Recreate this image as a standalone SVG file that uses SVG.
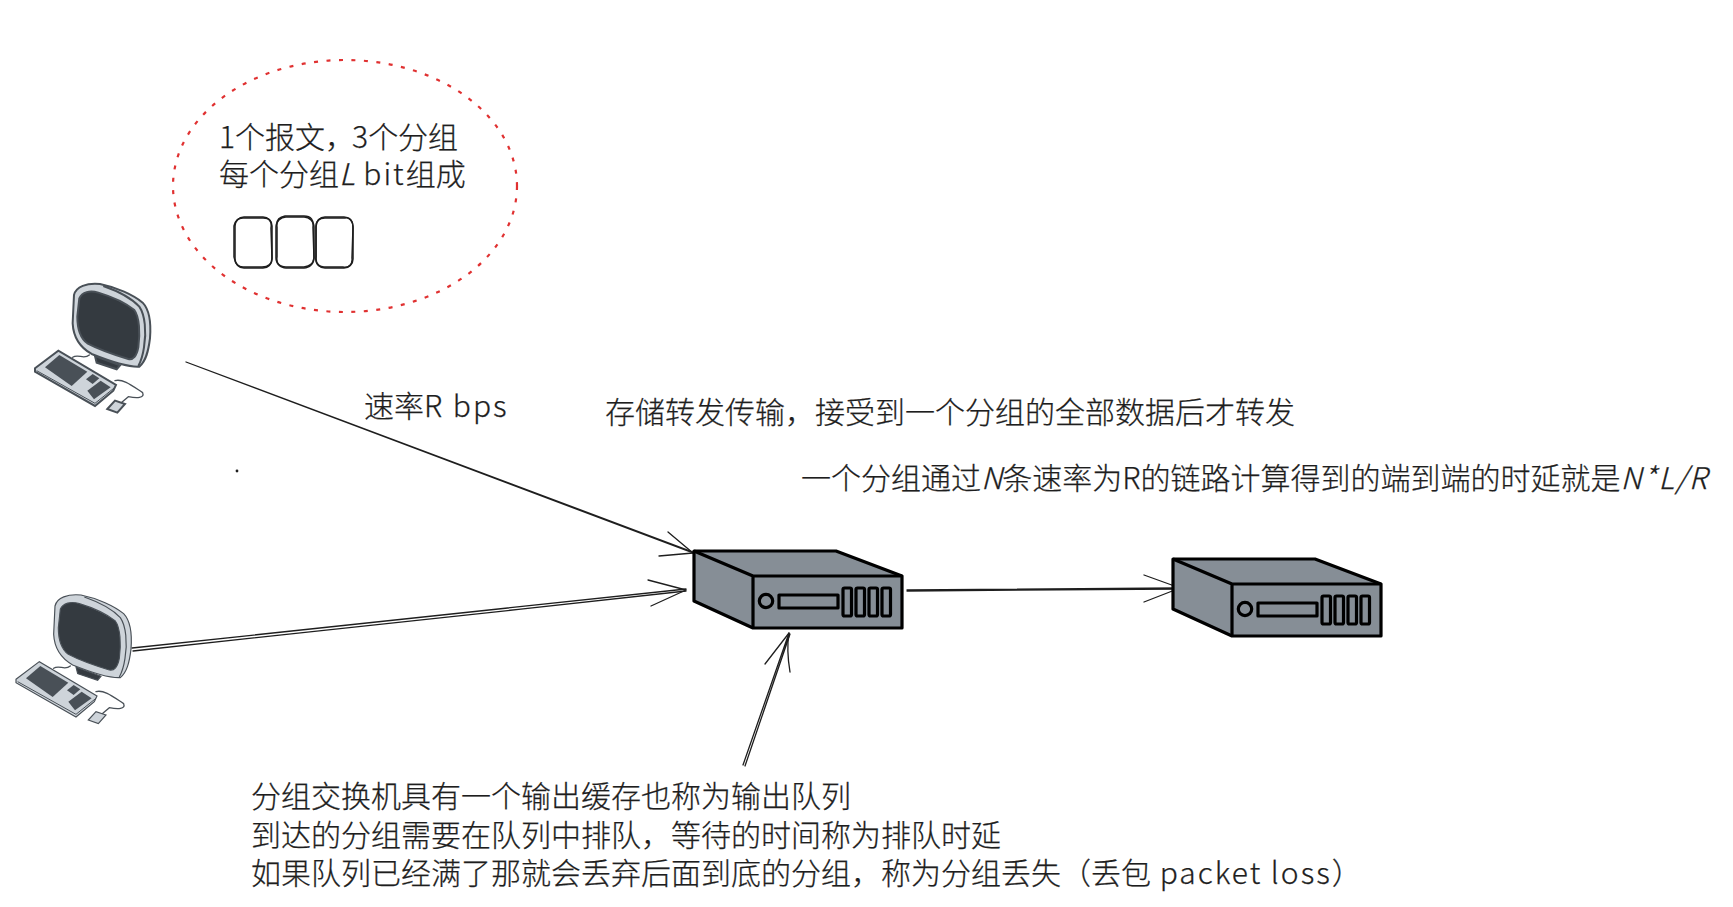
<svg xmlns="http://www.w3.org/2000/svg" width="1733" height="907" viewBox="0 0 1733 907">
<style>
text{font-family:"Noto Sans CJK SC","Noto Sans",sans-serif;font-size:30px;font-weight:300;fill:#1e1e1e;stroke:#1e1e1e;stroke-width:.25}
.lat{letter-spacing:2px}
.it{font-style:italic}
.box{fill:none;stroke:#1e1e1e;stroke-width:1.5}
.ln{fill:none;stroke:#1e1e1e;stroke-width:1.3;stroke-linecap:round;stroke-linejoin:round}
.sv{fill:#868e96;stroke:#000;stroke-width:3.2;stroke-linejoin:round}
.svl{fill:none;stroke:#000;stroke-width:3.2;stroke-linejoin:round}
.sc{fill:#343a40}
.key{fill:#495057}
.lite{fill:#ced4da}
.wire{fill:none;stroke-width:4;stroke-linecap:round;stroke-linejoin:round}
</style>
<defs>
<g id="server">
<path class="sv" d="M694 551H836L902 576V628H753L694 601Z"/>
<path class="svl" d="M694 551L753 576H902M753 576V628"/>
<circle class="sv" cx="766" cy="601" r="6.7"/>
<rect class="sv" x="779" y="595" width="59" height="13"/>
<rect class="sv" x="843" y="588" width="8.5" height="28" rx="1.5"/>
<rect class="sv" x="856" y="588" width="8.5" height="28" rx="1.5"/>
<rect class="sv" x="869" y="588" width="8.5" height="28" rx="1.5"/>
<rect class="sv" x="882" y="588" width="8.5" height="28" rx="1.5"/>
</g>
<g id="pc">
<path class="sc" d="M285 288L360 316L350 328L290 308Z"/>
<path class="lite" d="M222 105C228 80 260 68 300 72C350 82 400 105 428 128C447 148 454 185 450 235C445 275 438 303 418 320C380 322 320 300 275 282C240 262 220 230 218 190Z"/>
<path fill="none" d="M310 78C350 92 395 115 418 140C435 165 440 215 432 262C428 290 422 305 415 318"/>
<path class="sc" d="M238 115C246 96 270 90 295 98C335 110 378 130 403 150C418 170 421 220 415 262C410 288 400 300 385 297C345 285 300 270 262 250C242 235 232 205 232 170Z"/>
<path class="lite" d="M105 325L175 272L348 375L340 392L285 438L105 335Z"/>
<path fill="none" stroke-width="3" d="M110 332L285 430L345 382"/>
<path class="key" stroke="none" d="M135 322L178 285L262 335L215 378Z"/>
<path class="key" stroke="none" d="M258 358L278 342L298 355L278 372ZM262 392L302 362L332 382L282 418Z"/>
<path class="wire" d="M218 292C235 280 250 300 268 285M345 362C370 355 400 380 428 398C435 415 410 415 385 410L362 430"/>
<path class="lite" d="M322 447L345 422L375 432L352 458Z"/>
</g>
</defs>
<g id="connectors">
<path class="ln" d="M186 362L693 553M186 362C350 423 520 488 693 552"/>
<path class="ln" d="M668 532L693 553L659 556"/>
<path class="ln" d="M132 648L686 589M133 651C300 632 500 612 686 591"/>
<path class="ln" d="M648 580L686 590L651 606"/>
<path class="ln" d="M907 590L1180 588M907 591L1180 589"/>
<path class="ln" d="M1144 575L1180 588L1144 602"/>
<path class="ln" d="M743 765L789 633M745 766L790 634"/>
<path class="ln" d="M765 664L789 633C787 645 788 660 790 672"/>
</g>
<g id="note-ellipse">
<ellipse cx="345" cy="186" rx="172" ry="126" fill="none" stroke="#e03131" stroke-width="2.2" stroke-dasharray="4 8.5"/>
<text x="219" y="148">1个报文，<tspan dx="-3">3</tspan>个分组</text>
<text x="219" y="185">每个分组<tspan class="it">L</tspan><tspan class="lat"> bit</tspan>组成</text>
</g>
<g id="packets">
<rect class="box" x="235" y="217" width="37" height="51" rx="9"/>
<path class="box" d="M243 218H263C270 218 272 222 271 228L272 258C272 264 268 267 262 267H243C237 267 235 263 234 257V226C235 221 238 218 243 218Z"/>
<rect class="box" x="276" y="217" width="38" height="51" rx="10"/>
<path class="box" d="M285 216H304C311 216 314 220 313 227L314 258C313 264 310 266 304 267H286C279 267 276 263 277 257V227C276 221 279 217 285 216Z"/>
<rect class="box" x="316" y="217" width="37" height="51" rx="9"/>
<path class="box" d="M325 218H345C351 217 353 222 353 228L352 258C353 265 348 268 343 267H324C318 267 315 263 316 257V227C316 221 319 218 325 218Z"/>
</g>
<g id="pc1" transform="translate(0,260) scale(.3333)" stroke="#495057" stroke-width="6"><use href="#pc"/></g>
<g id="pc2" transform="translate(-19,571) scale(.3333)" stroke="#495057" stroke-width="3.5"><use href="#pc"/></g>
<g id="switch1"><use href="#server"/></g>
<g id="switch2"><use href="#server" x="479" y="8"/></g>
<g id="labels">
<text x="364" y="417">速率<tspan style="letter-spacing:2px">R bps</tspan></text>
<text x="605" y="423">存储转发传输，接受到一个分组的全部数据后才转发</text>
<text x="801" y="489">一个分组通过<tspan class="it">N</tspan>条速率为R的链路计算得到的端到端的时延就是<tspan class="it" style="letter-spacing:1.6px">N*L/R</tspan></text>
<text x="251" y="807">分组交换机具有一个输出缓存也称为输出队列</text>
<text x="251" y="846">到达的分组需要在队列中排队，等待的时间称为排队时延</text>
<text x="251" y="884">如果队列已经满了那就会丢弃后面到底的分组，称为分组丢失（丢包<tspan style="letter-spacing:2px"> packet loss）</tspan></text>
<circle cx="237" cy="471" r="1.4" fill="#1e1e1e"/>
</g>
</svg>
